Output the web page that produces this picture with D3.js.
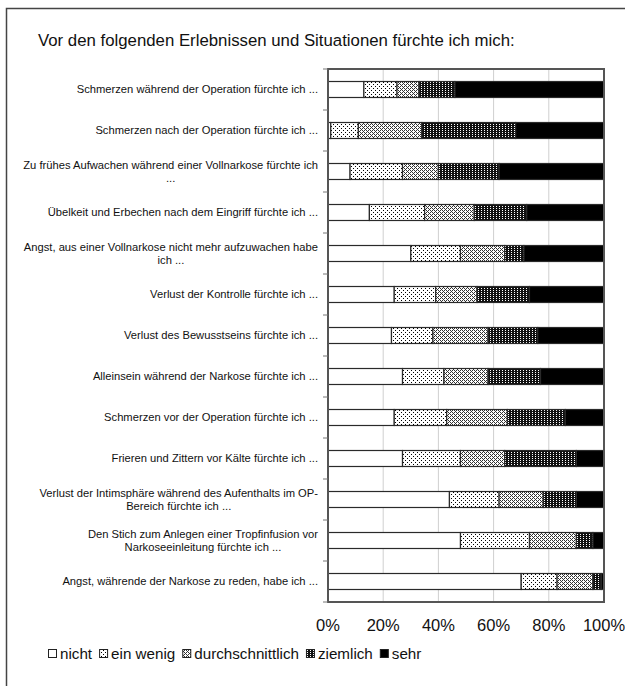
<!DOCTYPE html>
<html>
<head>
<meta charset="utf-8">
<script src="https://cdn.jsdelivr.net/npm/d3@7"></script>
<style>
  html, body { margin: 0; padding: 0; background: #fff; }
  svg { display: block; font-family: "Liberation Sans", Arial, sans-serif; }
</style>
</head>
<body>
<svg id="chart" width="625" height="686"></svg>
<script>
// Survey items, top to bottom ("|" marks a line break in the label)
const categories = [
  "Schmerzen während der Operation fürchte ich ...",
  "Schmerzen nach der Operation fürchte ich ...",
  "Zu frühes Aufwachen während einer Vollnarkose fürchte ich|...",
  "Übelkeit und Erbechen nach dem Eingriff fürchte ich ...",
  "Angst, aus einer Vollnarkose nicht mehr aufzuwachen habe|ich ...",
  "Verlust der Kontrolle fürchte ich ...",
  "Verlust des Bewusstseins fürchte ich ...",
  "Alleinsein während der Narkose fürchte ich ...",
  "Schmerzen vor der Operation fürchte ich ...",
  "Frieren und Zittern vor Kälte fürchte ich ...",
  "Verlust der Intimsphäre während des Aufenthalts im OP-|Bereich fürchte ich ...",
  "Den Stich zum Anlegen einer Tropfinfusion vor|Narkoseeinleitung fürchte ich ...",
  "Angst, währende der Narkose zu reden, habe ich ..."
];

const seriesNames = ["nicht", "ein wenig", "durchschnittlich", "ziemlich", "sehr"];

// Percent of answers per item, one array per answer level
const nicht            = [13,  1,  8, 15, 30, 24, 23, 27, 24, 27, 44, 48, 70];
const einWenig         = [12, 10, 19, 20, 18, 15, 15, 15, 19, 21, 18, 25, 13];
const durchschnittlich = [ 8, 23, 13, 18, 16, 15, 20, 16, 22, 16, 16, 17, 13];
const ziemlich         = [13, 34, 22, 19,  7, 19, 18, 19, 21, 26, 12,  6,  3];
const sehr             = [54, 32, 38, 28, 29, 27, 24, 23, 14, 10, 10,  4,  1];

const tickValues = [0, 20, 40, 60, 80, 100];
const tickLabels = ["0%", "20%", "40%", "60%", "80%", "100%"];
const title = "Vor den folgenden Erlebnissen und Situationen fürchte ich mich:";

const rows = categories.map((c, i) => ({
  cat: c,
  nicht: nicht[i], "ein wenig": einWenig[i], durchschnittlich: durchschnittlich[i],
  ziemlich: ziemlich[i], sehr: sehr[i]
}));

const svg = d3.select("#chart");
const defs = svg.append("defs");

// Fill patterns for the answer levels
function pattern(id, w, h, bg, dots, dotColor) {
  const p = defs.append("pattern").attr("id", id)
    .attr("patternUnits", "userSpaceOnUse").attr("width", w).attr("height", h);
  p.append("rect").attr("width", w).attr("height", h).attr("fill", bg);
  dots.forEach(([x, y]) => p.append("rect").attr("x", x).attr("y", y)
    .attr("width", 1).attr("height", 1).attr("fill", dotColor));
  return p;
}
pattern("p-ew", 4, 4, "#fff", [[1, 0], [3, 2]], "#000");
pattern("p-du", 4, 4, "#fff", [[0, 0], [2, 0], [1, 1], [0, 2], [2, 2], [3, 3]], "#333");
pattern("p-zi", 3, 2, "#111", [[1, 0]], "#fff");

const fills = {
  "nicht": "#fff",
  "ein wenig": "url(#p-ew)",
  "durchschnittlich": "url(#p-du)",
  "ziemlich": "url(#p-zi)",
  "sehr": "#000"
};

svg.append("rect").attr("width", 625).attr("height", 686).attr("fill", "#fff");

// outer frame
svg.append("rect").attr("x", 6.5).attr("y", 8.5).attr("width", 700).attr("height", 700)
  .attr("fill", "none").attr("stroke", "#444").attr("stroke-width", 1.5);

svg.append("text").attr("x", 38).attr("y", 46)
  .attr("font-size", 16.8).attr("fill", "#111").text(title);

const plot = { left: 328, right: 604, top: 69, bottom: 602 };

const x = d3.scaleLinear().domain([0, 100]).range([plot.left, plot.right]);
const y = d3.scaleBand().domain(categories).range([plot.top, plot.bottom])
  .paddingInner(0.61).paddingOuter(0.305);
const yBand = d3.scaleBand().domain(categories).range([plot.top, plot.bottom]);

// vertical gridlines
svg.append("g").selectAll("line").data(tickValues.slice(1, -1)).join("line")
  .attr("x1", d => x(d)).attr("x2", d => x(d))
  .attr("y1", plot.top).attr("y2", plot.bottom)
  .attr("stroke", "#cfcfcf").attr("stroke-width", 1);

// stacked bars
const stack = d3.stack().keys(seriesNames);
const series = stack(rows);
svg.append("g").selectAll("g").data(series).join("g")
  .attr("fill", d => fills[d.key])
  .selectAll("rect").data(d => d).join("rect")
  .attr("x", d => x(d[0]))
  .attr("width", d => x(d[1]) - x(d[0]))
  .attr("y", d => y(d.data.cat))
  .attr("height", y.bandwidth())
  .attr("stroke", "#2a2a2a").attr("stroke-width", 1.2);

// plot frame
svg.append("rect").attr("x", plot.left).attr("y", plot.top)
  .attr("width", plot.right - plot.left).attr("height", plot.bottom - plot.top)
  .attr("fill", "none").attr("stroke", "#555").attr("stroke-width", 2);

// category axis: outward ticks at band boundaries and wrapped labels
const bounds = categories.map(c => yBand(c)).concat([plot.bottom]);
svg.append("g").selectAll("line").data(bounds).join("line")
  .attr("x1", plot.left - 5).attr("x2", plot.left)
  .attr("y1", d => d).attr("y2", d => d)
  .attr("stroke", "#777").attr("stroke-width", 1);

const labelRight = 318;
const lineH = 12.5;
const labels = svg.append("g").attr("font-size", 11.2).attr("fill", "#111");
categories.forEach(c => {
  const lines = c.split("|");
  const cy = yBand(c) + yBand.bandwidth() / 2;
  const g = labels.append("g");
  const texts = lines.map((ln, i) => g.append("text")
    .attr("y", cy + (i - (lines.length - 1) / 2) * lineH)
    .attr("dy", "0.35em").text(ln));
  const widths = texts.map(t => t.node().getComputedTextLength());
  const maxW = d3.max(widths);
  const center = labelRight - maxW / 2;
  texts.forEach(t => t.attr("x", center).attr("text-anchor", "middle"));
});

// percentage axis labels
svg.append("g").attr("font-size", 16.5).attr("fill", "#111")
  .selectAll("text").data(tickValues).join("text")
  .attr("x", d => x(d)).attr("y", 625).attr("dy", "0.35em")
  .attr("text-anchor", "middle").text((d, i) => tickLabels[i]);

// legend
const legend = svg.append("g").attr("font-size", 15.2).attr("fill", "#111");
let lx = 48;
seriesNames.forEach(name => {
  legend.append("rect").attr("x", lx + 0.5).attr("y", 649.5).attr("width", 8).attr("height", 8)
    .attr("fill", fills[name]).attr("stroke", "#222").attr("stroke-width", 1);
  const t = legend.append("text").attr("x", lx + 12).attr("y", 654).attr("dy", "0.35em").text(name);
  lx += 12 + t.node().getComputedTextLength() + 7;
});
</script>
</body>
</html>
